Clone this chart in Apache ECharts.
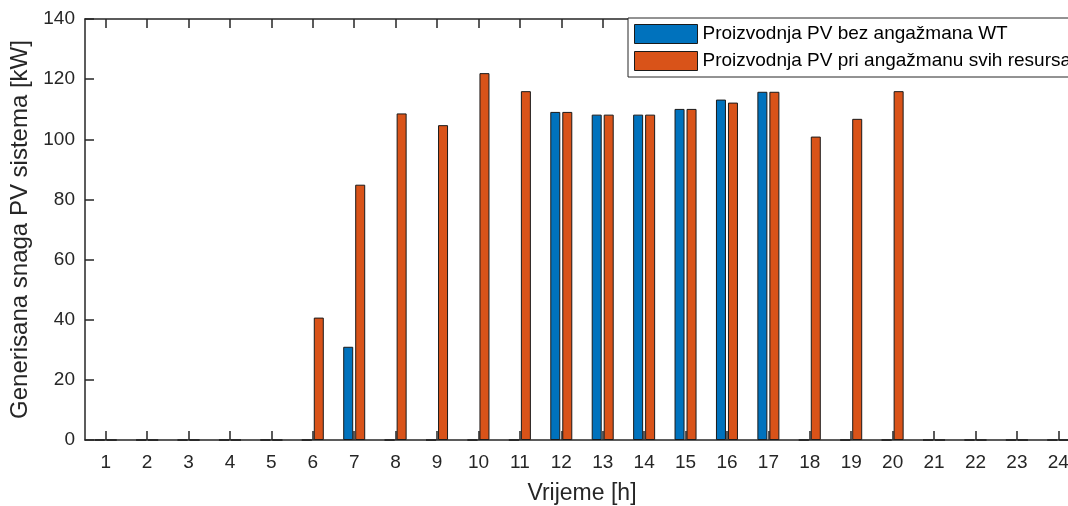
<!DOCTYPE html>
<html>
<head>
<meta charset="utf-8">
<script src="https://cdn.jsdelivr.net/npm/echarts@6/dist/echarts.min.js"></script>
<style>
  html, body { margin: 0; padding: 0; background: #fff; }
  #chart { width: 1068px; height: 506px; }
</style>
</head>
<body>
<div id="chart"></div>
<script>
// hours on the x axis
var hours = ['1', '2', '3', '4', '5', '6', '7', '8', '9', '10', '11', '12',
  '13', '14', '15', '16', '17', '18', '19', '20', '21', '22', '23', '24']
// PV production without WT engagement [kW]
var pvBezWT = [0, 0, 0, 0, 0, 0, 31, 0, 0, 0, 0, 109.1,
  108.2, 108.2, 110.1, 113.2, 115.8, 0, 0, 0, 0, 0, 0, 0]
// PV production with all resources engaged [kW]
var pvSvi = [0, 0, 0, 0, 0, 40.7, 84.9, 108.6, 104.7, 122, 116, 109.1,
  108.2, 108.2, 110.1, 112.2, 115.8, 100.9, 106.8, 116, 0, 0, 0, 0]
var yTicks = { min: 0, max: 140, interval: 20 }

var axisColor = '#262626'
var font = 'Liberation Sans, Arial, Helvetica, sans-serif'

// same rect for the data grid and the tick-only grid
var plotRect = { left: 85, top: 19, width: 994, height: 421, outerBoundsMode: 'none' }
var tickStyle = { color: axisColor, width: 1.5 }

var chart = echarts.init(document.getElementById('chart'))
chart.setOption({
  animation: false,
  backgroundColor: '#fff',
  color: ['#0072BD', '#D95319'],
  textStyle: { fontFamily: font },
  legend: {
    orient: 'vertical',
    left: 628,
    top: 18,
    padding: [6, 120, 6, 6],
    itemGap: 7,
    itemWidth: 63,
    itemHeight: 19,
    backgroundColor: '#fff',
    borderColor: '#262626',
    borderWidth: 1,
    borderRadius: 0,
    icon: 'rect',
    itemStyle: { borderColor: '#1a1a1a', borderWidth: 1 },
    textStyle: { fontSize: 19, lineHeight: 19, color: '#000' },
    data: ['Proizvodnja PV bez angažmana WT', 'Proizvodnja PV pri angažmanu svih resursa']
  },
  grid: [plotRect, plotRect],
  xAxis: [{
    type: 'category',
    gridIndex: 0,
    data: hours,
    boundaryGap: true,
    name: 'Vrijeme [h]',
    nameLocation: 'middle',
    nameGap: 42,
    nameTextStyle: { fontSize: 23, color: axisColor },
    axisLine: { lineStyle: { color: axisColor, width: 1.5 } },
    axisTick: { show: false },
    axisLabel: { fontSize: 19, color: axisColor, margin: 13 }
  }, {
    // top border, ticks pointing down
    type: 'category',
    gridIndex: 0,
    data: hours,
    position: 'top',
    boundaryGap: true,
    axisLine: { lineStyle: { color: axisColor, width: 1.5 } },
    axisTick: { show: true, alignWithLabel: true, inside: false, length: -9, lineStyle: tickStyle },
    axisLabel: { show: false }
  }, {
    // bottom ticks pointing up
    type: 'category',
    gridIndex: 1,
    data: hours,
    position: 'bottom',
    boundaryGap: true,
    axisLine: { show: false },
    axisTick: { show: true, alignWithLabel: true, inside: false, length: -9, lineStyle: tickStyle },
    axisLabel: { show: false }
  }],
  yAxis: [{
    type: 'value',
    gridIndex: 0,
    min: yTicks.min,
    max: yTicks.max,
    interval: yTicks.interval,
    name: 'Generisana snaga PV sistema [kW]',
    nameLocation: 'middle',
    nameGap: 51,
    nameTextStyle: { fontSize: 24, color: axisColor },
    axisLine: { show: true, lineStyle: { color: axisColor, width: 1.5 } },
    axisTick: { show: false },
    axisLabel: { fontSize: 19, color: axisColor, margin: 10 },
    splitLine: { show: false }
  }, {
    // left ticks pointing right
    type: 'value',
    gridIndex: 1,
    position: 'left',
    min: yTicks.min,
    max: yTicks.max,
    interval: yTicks.interval,
    axisLine: { show: false },
    axisTick: { show: true, inside: true, length: 9, lineStyle: tickStyle },
    axisLabel: { show: false },
    splitLine: { show: false }
  }],
  series: [{
    name: 'Proizvodnja PV bez angažmana WT',
    type: 'bar',
    barWidth: 10,
    barGap: '20%',
    itemStyle: { borderColor: '#1a1a1a', borderWidth: 1 },
    emphasis: { disabled: true },
    data: pvBezWT
  }, {
    name: 'Proizvodnja PV pri angažmanu svih resursa',
    type: 'bar',
    barWidth: 10,
    barGap: '20%',
    itemStyle: { borderColor: '#1a1a1a', borderWidth: 1 },
    emphasis: { disabled: true },
    data: pvSvi
  }]
})
</script>
</body>
</html>
